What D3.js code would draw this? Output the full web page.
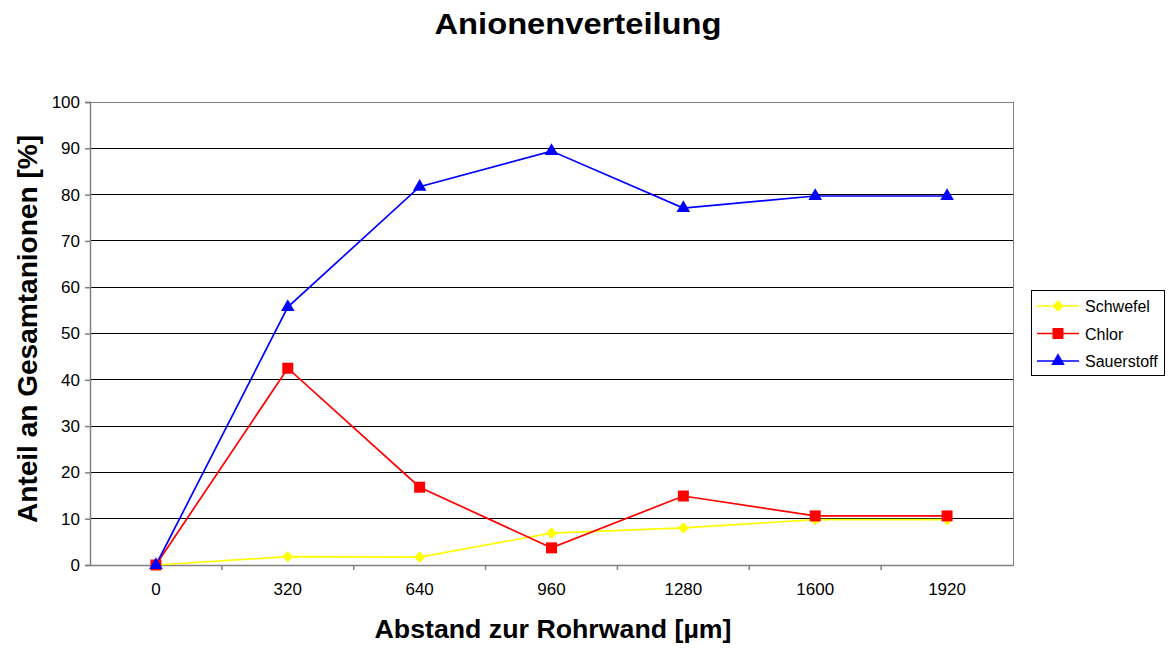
<!DOCTYPE html>
<html>
<head>
<meta charset="utf-8">
<script src="https://cdn.jsdelivr.net/npm/d3@7"></script>
<style>
  body { margin: 0; background: #fff; }
  text { font-family: Arial, "Liberation Sans", sans-serif; }
</style>
</head>
<body>
<svg id="chart" width="1169" height="648"></svg>
<script>
const categories = ["0", "320", "640", "960", "1280", "1600", "1920"];
const schwefel = [0, 1.8, 1.7, 6.9, 8.0, 9.8, 9.8];
const chlor = [0, 42.5, 16.8, 3.7, 14.9, 10.6, 10.6];
const sauerstoff = [0, 55.7, 81.7, 89.4, 77.1, 79.7, 79.7];
const yTicks = [0, 10, 20, 30, 40, 50, 60, 70, 80, 90, 100];

const series = [
  { name: "Schwefel", values: schwefel, color: "#ffff00", symbol: d3.symbolSquare, size: 64, rot: 45 },
  { name: "Chlor", values: chlor, color: "#ff0000", symbol: d3.symbolSquare, size: 121, rot: 0 },
  { name: "Sauerstoff", values: sauerstoff, color: "#0000ff", symbol: d3.symbolTriangle, size: 80, rot: 0 }
];

const svg = d3.select("#chart");
const mLeft = 90, mRight = 1013, mTop = 102, mBottom = 565;

const x = d3.scaleBand().domain(categories).range([mLeft, mRight]);
const y = d3.scaleLinear().domain([0, 100]).range([mBottom, mTop]);

// grid
svg.append("g")
  .selectAll("line")
  .data(yTicks.filter(d => d > 0 && d < 100))
  .enter()
  .append("line")
  .attr("x1", mLeft).attr("x2", mRight)
  .attr("y1", d => y(d)).attr("y2", d => y(d))
  .attr("stroke", "#000").attr("stroke-width", 1)
  .attr("shape-rendering", "crispEdges");

// plot border
svg.append("rect")
  .attr("x", mLeft).attr("y", mTop)
  .attr("width", mRight - mLeft).attr("height", mBottom - mTop)
  .attr("fill", "none").attr("stroke", "#808080")
  .attr("shape-rendering", "crispEdges");

// y axis
const yAxis = svg.append("g")
  .attr("transform", `translate(${mLeft},0)`)
  .call(d3.axisLeft(y).tickValues(yTicks).tickSize(5).tickPadding(5));
yAxis.selectAll("text").attr("font-size", 17).attr("fill", "#000");
yAxis.selectAll("line, path").attr("stroke", "#808080").attr("stroke-width", 1.5);

// x axis, ticks between categories
const xAxis = svg.append("g")
  .attr("transform", `translate(0,${mBottom})`)
  .call(d3.axisBottom(x).tickSize(0).tickPadding(18));
xAxis.selectAll("text").attr("font-size", 17).attr("fill", "#000");
xAxis.select("path").attr("stroke", "#808080").attr("stroke-width", 1.5);
xAxis.selectAll(".sep")
  .data(categories.slice(1))
  .enter()
  .append("line")
  .attr("class", "sep")
  .attr("x1", d => x(d)).attr("x2", d => x(d))
  .attr("y1", 0).attr("y2", 5)
  .attr("stroke", "#808080").attr("stroke-width", 1.5);

const line = d3.line()
  .x((d, i) => x(categories[i]) + x.bandwidth() / 2)
  .y(d => y(d));

series.forEach(s => {
  svg.append("path")
    .datum(s.values)
    .attr("d", line)
    .attr("fill", "none")
    .attr("stroke", s.color)
    .attr("stroke-width", 1.7);
});

series.forEach(s => {
  svg.append("g")
    .selectAll("path")
    .data(s.values)
    .enter()
    .append("path")
    .attr("d", d3.symbol().type(s.symbol).size(s.size))
    .attr("transform", (d, i) => `translate(${x(categories[i]) + x.bandwidth() / 2},${y(d)}) rotate(${s.rot})`)
    .attr("fill", s.color);
});

// titles
svg.append("text")
  .attr("x", 578).attr("y", 34)
  .attr("text-anchor", "middle")
  .attr("font-size", 30).attr("font-weight", "bold")
  .attr("textLength", 287).attr("lengthAdjust", "spacingAndGlyphs")
  .text("Anionenverteilung");

svg.append("text")
  .attr("x", 553).attr("y", 638)
  .attr("text-anchor", "middle")
  .attr("font-size", 26).attr("font-weight", "bold")
  .attr("textLength", 357).attr("lengthAdjust", "spacingAndGlyphs")
  .text("Abstand zur Rohrwand [µm]");

svg.append("text")
  .attr("transform", `translate(37,329) rotate(-90)`)
  .attr("text-anchor", "middle")
  .attr("font-size", 27).attr("font-weight", "bold")
  .attr("textLength", 388).attr("lengthAdjust", "spacingAndGlyphs")
  .text("Anteil an Gesamtanionen [%]");

// legend
const legend = svg.append("g").attr("transform", "translate(1031,290)");
legend.append("rect")
  .attr("width", 133).attr("height", 85)
  .attr("fill", "#fff").attr("stroke", "#000")
  .attr("shape-rendering", "crispEdges");

const item = legend.selectAll(".item")
  .data(series)
  .enter()
  .append("g")
  .attr("class", "item")
  .attr("transform", (d, i) => `translate(0,${16 + i * 27.5})`);
item.append("line")
  .attr("x1", 6).attr("x2", 48)
  .attr("stroke", d => d.color).attr("stroke-width", 1.7);
item.append("path")
  .attr("d", d => d3.symbol().type(d.symbol).size(d.size)())
  .attr("transform", d => `translate(27,0) rotate(${d.rot})`)
  .attr("fill", d => d.color);
item.append("text")
  .attr("x", 54).attr("y", 6)
  .attr("font-size", 16)
  .text(d => d.name);
</script>
</body>
</html>
